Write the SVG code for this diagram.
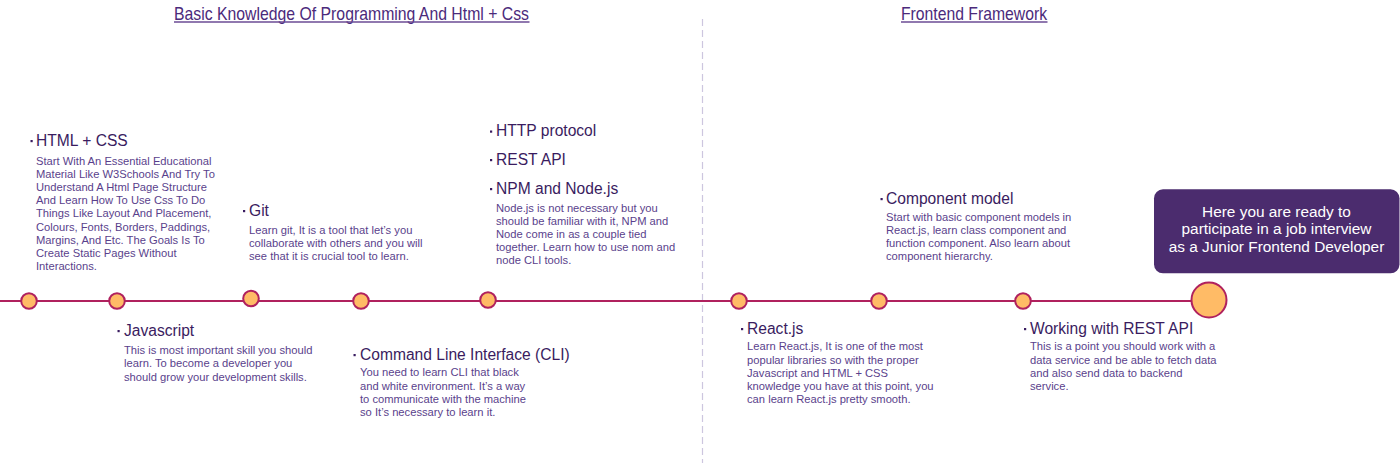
<svg xmlns="http://www.w3.org/2000/svg" width="1400" height="463" viewBox="0 0 1400 463">
<style>
.title{font-family:"Liberation Sans Narrow","Liberation Sans",Arial,sans-serif;font-size:19px;fill:#4b2a7b}
.ul{stroke:#6b4b95;stroke-width:1.6}
.head{font-family:"Liberation Sans",Arial,sans-serif;font-size:15.6px;fill:#3a1c60}
.body{font-family:"Liberation Sans",Arial,sans-serif;font-size:11.2px;fill:#5a3f8c}
.bul{fill:#3a1c60}
.dot{fill:#ffbb66;stroke:#b0215e;stroke-width:2}
.box{fill:#4b2c6e}
.boxt{font-family:"Liberation Sans",Arial,sans-serif;font-size:15.4px;fill:#ffffff;text-anchor:middle}
</style>
<rect width="1400" height="463" fill="#ffffff"/>
<g id="section-titles">
<text class="title" x="174" y="19.5" textLength="355" lengthAdjust="spacingAndGlyphs">Basic Knowledge Of Programming And Html + Css</text>
<line class="ul" x1="174" y1="22" x2="529.5" y2="22"/>
<text class="title" x="901" y="19.5" textLength="146" lengthAdjust="spacingAndGlyphs">Frontend Framework</text>
<line class="ul" x1="901" y1="22" x2="1047.5" y2="22"/>
</g>
<g id="connectors">
<line x1="702.5" y1="19" x2="702.5" y2="463" stroke="#cdc6df" stroke-width="1.2" stroke-dasharray="7,4"/>
<line x1="0" y1="301" x2="1195" y2="301" stroke="#b0215e" stroke-width="2"/>
</g>
<g id="timeline-points">
<circle class="dot" cx="29" cy="301" r="7.8"/>
<circle class="dot" cx="117" cy="301" r="7.8"/>
<circle class="dot" cx="251" cy="298.5" r="7.8"/>
<circle class="dot" cx="361" cy="301" r="7.8"/>
<circle class="dot" cx="488" cy="300" r="7.8"/>
<circle class="dot" cx="739" cy="301" r="7.8"/>
<circle class="dot" cx="879" cy="301" r="7.8"/>
<circle class="dot" cx="1023" cy="301" r="7.8"/>
<circle class="dot" cx="1209" cy="300" r="17.5"/>
</g>
<g id="html-css">
<rect class="bul" x="30.5" y="140" width="2.2" height="2.2"/>
<text class="head" x="36" y="146">HTML + CSS</text>
<text class="body" x="36" y="165"><tspan x="36">Start With An Essential Educational</tspan><tspan x="36" dy="13.1">Material Like W3Schools And Try To</tspan><tspan x="36" dy="13.1">Understand A Html Page Structure</tspan><tspan x="36" dy="13.1">And Learn How To Use Css To Do</tspan><tspan x="36" dy="13.1">Things Like Layout And Placement,</tspan><tspan x="36" dy="13.1">Colours, Fonts, Borders, Paddings,</tspan><tspan x="36" dy="13.1">Margins, And Etc. The Goals Is To</tspan><tspan x="36" dy="13.1">Create Static Pages Without</tspan><tspan x="36" dy="13.1">Interactions.</tspan></text>
</g>
<g id="git">
<rect class="bul" x="243" y="210" width="2.2" height="2.2"/>
<text class="head" x="249" y="216">Git</text>
<text class="body" x="249" y="234"><tspan x="249">Learn git, It is a tool that let’s you</tspan><tspan x="249" dy="13">collaborate with others and you will</tspan><tspan x="249" dy="13">see that it is crucial tool to learn.</tspan></text>
</g>
<g id="http-rest-npm">
<rect class="bul" x="490" y="130.5" width="2.2" height="2.2"/>
<text class="head" x="496" y="136.3">HTTP protocol</text>
<rect class="bul" x="490" y="159" width="2.2" height="2.2"/>
<text class="head" x="496" y="164.8">REST API</text>
<rect class="bul" x="490" y="188" width="2.2" height="2.2"/>
<text class="head" x="496" y="193.6">NPM and Node.js</text>
<text class="body" x="496" y="212.3"><tspan x="496">Node.js is not necessary but you</tspan><tspan x="496" dy="13">should be familiar with it, NPM and</tspan><tspan x="496" dy="13">Node come in as a couple tied</tspan><tspan x="496" dy="13">together. Learn how to use nom and</tspan><tspan x="496" dy="13">node CLI tools.</tspan></text>
</g>
<g id="component-model">
<rect class="bul" x="880.5" y="198" width="2.2" height="2.2"/>
<text class="head" x="886" y="203.6">Component model</text>
<text class="body" x="886" y="220.5"><tspan x="886">Start with basic component models in</tspan><tspan x="886" dy="13.2">React.js, learn class component and</tspan><tspan x="886" dy="13.2">function component. Also learn about</tspan><tspan x="886" dy="13.2">component hierarchy.</tspan></text>
</g>
<g id="final-goal">
<rect class="box" x="1154" y="189.3" width="245.5" height="84" rx="9" ry="9"/>
<text class="boxt" x="1276.5" y="216.7"><tspan x="1276.5">Here you are ready to</tspan><tspan x="1276.5" dy="17.5">participate in a job interview</tspan><tspan x="1276.5" dy="17.5">as a Junior Frontend Developer</tspan></text>
</g>
<g id="javascript">
<rect class="bul" x="117.5" y="330" width="2.2" height="2.2"/>
<text class="head" x="124" y="335.6">Javascript</text>
<text class="body" x="124" y="354"><tspan x="124">This is most important skill you should</tspan><tspan x="124" dy="13.3">learn. To become a developer you</tspan><tspan x="124" dy="13.3">should grow your development skills.</tspan></text>
</g>
<g id="cli">
<rect class="bul" x="353.5" y="354" width="2.2" height="2.2"/>
<text class="head" x="360" y="359.6">Command Line Interface (CLI)</text>
<text class="body" x="360" y="376.3"><tspan x="360">You need to learn CLI that black</tspan><tspan x="360" dy="13.2">and white environment. It’s a way</tspan><tspan x="360" dy="13.2">to communicate with the machine</tspan><tspan x="360" dy="13.2">so It’s necessary to learn it.</tspan></text>
</g>
<g id="reactjs">
<rect class="bul" x="741" y="328" width="2.2" height="2.2"/>
<text class="head" x="747" y="333.6">React.js</text>
<text class="body" x="747" y="350.3"><tspan x="747">Learn React.js, It is one of the most</tspan><tspan x="747" dy="13.2">popular libraries so with the proper</tspan><tspan x="747" dy="13.2">Javascript and HTML + CSS</tspan><tspan x="747" dy="13.2">knowledge you have at this point, you</tspan><tspan x="747" dy="13.2">can learn React.js pretty smooth.</tspan></text>
</g>
<g id="rest-api-work">
<rect class="bul" x="1024" y="328" width="2.2" height="2.2"/>
<text class="head" x="1030" y="333.6">Working with REST API</text>
<text class="body" x="1030" y="350.3"><tspan x="1030">This is a point you should work with a</tspan><tspan x="1030" dy="13.3">data service and be able to fetch data</tspan><tspan x="1030" dy="13.3">and also send data to backend</tspan><tspan x="1030" dy="13.3">service.</tspan></text>
</g>
</svg>
